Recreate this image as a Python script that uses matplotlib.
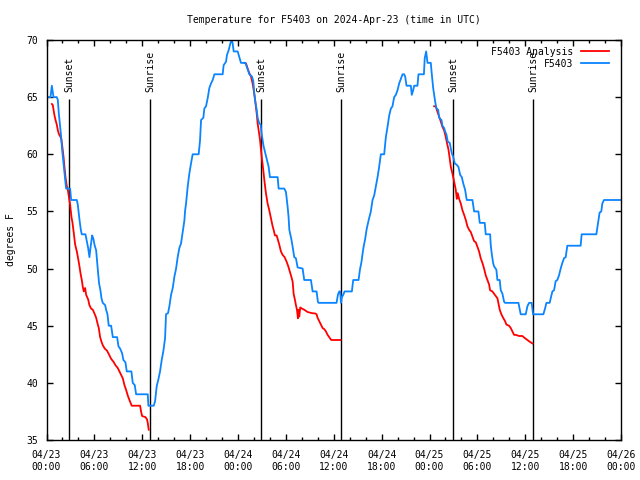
# Temperature for F5403, observations vs analysis, with sunset / sunrise markers

import matplotlib
matplotlib.use('Agg')
import matplotlib.pyplot as plt
import matplotlib.dates as mdates
import pandas as pd

start = pd.Timestamp('2024-04-23 00:00')

# observations (hours after 04/23 00:00 UTC, deg F)
obs_hours = [0.0, 0.5, 0.67, 0.88, 1.29, 1.42, 1.54, 1.71, 1.84, 1.96, 2.13, 2.25,
             2.38, 2.46, 2.96, 3.09, 3.80, 3.92, 4.13, 4.30, 4.42, 4.88, 5.05, 5.22,
             5.38, 5.51, 5.72, 5.88, 6.01, 6.22, 6.34, 6.47, 6.59, 6.76, 6.89, 7.05,
             7.35, 7.47, 7.64, 7.80, 8.10, 8.31, 8.85, 9.02, 9.22, 9.47, 9.64, 9.89,
             10.06, 10.64, 10.81, 11.06, 11.23, 12.69, 12.77, 13.44, 13.61, 13.81,
             14.02, 14.23, 14.44, 14.65, 14.86, 14.98, 15.23, 15.40, 15.61, 15.82,
             16.03, 16.24, 16.44, 16.65, 16.86, 17.07, 17.28, 17.36, 17.49, 17.70,
             17.90, 18.11, 18.32, 19.07, 19.24, 19.37, 19.66, 19.78, 19.99, 20.20,
             20.41, 20.62, 20.83, 21.04, 22.08, 22.20, 22.41, 22.50, 22.62, 22.83,
             23.04, 23.21, 23.33, 23.46, 23.96, 24.17, 24.37, 24.92, 25.08, 25.42,
             25.75, 25.92, 26.04, 26.17, 26.34, 26.46, 26.67, 26.84, 26.96, 27.09,
             27.21, 27.42, 27.63, 27.84, 28.00, 28.97, 29.09, 29.80, 30.01, 30.22,
             30.34, 30.43, 30.68, 30.85, 31.05, 31.26, 31.47, 32.10, 32.30, 33.14,
             33.35, 33.85, 34.01, 34.10, 36.35, 36.52, 36.69, 36.81, 36.90, 37.02,
             37.19, 37.36, 38.27, 38.44, 39.11, 39.28, 39.48, 39.61, 39.74, 39.94,
             40.11, 40.36, 40.65, 40.86, 41.07, 41.28, 41.49, 41.69, 41.90, 42.32,
             42.53, 42.74, 42.95, 43.16, 43.36, 43.57, 43.78, 43.99, 44.20, 44.41,
             44.62, 44.82, 44.95, 45.12, 45.66, 45.78, 45.95, 46.08, 46.49, 46.62,
             47.30, 47.40, 47.58, 47.75, 48.16, 48.29, 48.46, 48.58, 48.71, 48.87,
             49.08, 49.21, 49.33, 49.50, 49.62, 49.83, 49.96, 50.13, 50.29, 50.54,
             50.67, 50.79, 50.96, 51.17, 51.38, 51.63, 51.84, 52.05, 52.21, 52.46,
             52.67, 53.38, 53.59, 54.13, 54.30, 54.92, 55.05, 55.60, 55.67, 55.80,
             55.97, 56.09, 56.38, 56.51, 56.80, 56.93, 57.14, 57.35, 57.47, 59.15,
             59.31, 59.43, 60.06, 60.27, 60.48, 60.81, 60.89, 60.98, 62.27, 62.48,
             62.65, 63.06, 63.19, 63.40, 63.61, 63.81, 64.02, 64.23, 64.44, 64.65,
             64.86, 65.07, 65.27, 66.94, 67.07, 68.91, 69.04, 69.16, 69.32, 69.53,
             69.66, 69.87, 72.0]
obs_temps = [65, 65, 66, 65, 65, 64.75, 63.6, 62.4, 61.5, 60.4, 59.2, 58.3,
             57.5, 57, 57, 56, 56, 55.6, 54.3, 53.4, 53, 53, 52.4, 51.8,
             51, 51.8, 52.9, 52.6, 52.1, 51.6, 50.6, 49.6, 48.7, 48.1, 47.4, 47,
             46.8, 46.4, 46, 45, 45, 44, 44, 43.2, 43, 42.6, 42, 41.8,
             41, 41, 40, 39.8, 39, 39, 38, 38, 38.4, 39.7,
             40.3, 41, 42, 42.8, 43.9, 46, 46.1, 46.7, 47.7, 48.3,
             49.3, 50, 51, 51.8, 52.2, 53.2, 54.2, 55, 55.7, 57.2,
             58.3, 59.2, 60, 60, 61.2, 63, 63.2, 64, 64.2, 64.9,
             65.8, 66.2, 66.5, 67, 67, 67.8, 68, 68.1, 68.7, 69.1,
             69.7, 70, 69.7, 69, 69, 68.5, 68, 68, 67.7, 67,
             66.8, 66.4, 65.3, 64.6, 63.9, 63.2, 62.7, 62.6, 61.8, 61.2,
             60.7, 60.1, 59.5, 58.9, 58, 58, 57, 57, 56.7, 55.4,
             54.5, 53.4, 52.6, 51.9, 51, 50.9, 50.1, 50, 49, 49,
             48, 48, 47.1, 47, 47, 47.7, 48, 48, 47, 47.5,
             47.7, 48, 48, 49, 49, 49.9, 50.6, 51.3, 51.9, 52.6,
             53.4, 54.2, 55, 56, 56.4, 57.2, 58, 58.9, 60, 60,
             61.5, 62.4, 63.4, 64, 64.2, 65, 65.2, 65.6, 66.2, 66.6,
             67, 67, 66.8, 66, 66, 65.2, 65.6, 66, 66, 67,
             67, 68.4, 69, 68, 68, 67, 65.8, 65.2, 64.6, 64,
             63.9, 63.2, 63.1, 63, 62.5, 62.3, 62, 61.7, 61.1, 61,
             60.5, 60.1, 59.8, 59.2, 59.1, 58.9, 58.2, 58, 57.5, 56.9,
             56, 56, 55, 55, 54, 54, 53, 53, 52.1, 51.3,
             50.5, 50.2, 49.9, 49, 49, 48.1, 47.8, 47.1, 47, 47,
             46.4, 46, 46, 46.7, 47, 47, 46.5, 46, 46, 46.5,
             47, 47, 47.4, 48, 48.1, 48.9, 49, 49.4, 50, 50.5,
             50.9, 51, 52, 52, 53, 53, 53.6, 54.2, 54.9, 55,
             55.7, 56, 56]

# analysis, one run per evening
ana1_hours = [0.67, 0.79, 0.88, 1.00, 1.13, 1.29, 1.42, 1.54, 1.84, 1.96, 2.13, 2.25,
              2.38, 2.55, 2.67, 2.80, 2.96, 3.13, 3.26, 3.42, 3.59, 3.80, 3.96, 4.13,
              4.26, 4.42, 4.55, 4.67, 4.84, 4.97, 5.22, 5.38, 5.59, 5.80, 6.05, 6.22,
              6.43, 6.55, 6.72, 6.89, 7.05, 7.30, 7.60, 7.89, 8.10, 8.39, 8.64, 8.93,
              9.14, 9.35, 9.56, 9.77, 9.97, 10.18, 10.39, 10.68, 11.73, 11.85, 11.98,
              12.40, 12.60, 12.69, 12.81]
ana1_temps = [64.4, 64.3, 63.9, 63.4, 63.0, 62.6, 62.1, 61.8, 61.4, 60.8, 59.8, 58.9,
              58.0, 57.2, 56.9, 56.3, 55.6, 54.5, 54.0, 53.1, 52.1, 51.5, 50.9, 50.2,
              49.6, 49.0, 48.4, 48.0, 48.3, 47.7, 47.3, 46.8, 46.5, 46.4, 46.0, 45.7,
              45.1, 44.8, 44.0, 43.6, 43.3, 43.0, 42.8, 42.4, 42.1, 41.85, 41.55, 41.3,
              41.0, 40.7, 40.4, 39.8, 39.4, 38.9, 38.5, 38.0, 38.0, 37.5, 37.1,
              37.0, 36.8, 36.5, 35.9]

ana2_hours = [24.79, 25.00, 25.21, 25.42, 25.63, 25.83, 26.04, 26.17, 26.34, 26.46,
              26.59, 26.76, 26.88, 27.00, 27.17, 27.34, 27.50, 27.71, 27.92, 28.13,
              28.34, 28.46, 28.63, 28.84, 29.01, 29.17, 29.38, 29.59, 29.84, 30.09,
              30.30, 30.51, 30.68, 30.85, 30.97, 31.14, 31.26, 31.39, 31.51, 31.60,
              31.68, 31.80, 32.01, 32.30, 32.72, 33.26, 33.68, 33.85, 33.97, 34.18,
              34.39, 34.60, 34.81, 35.02, 35.23, 35.43, 35.68, 36.85]
ana2_temps = [68.0, 67.96, 67.5, 67.1, 66.8, 66.2, 65.3, 64.6, 63.6, 62.7,
              62.1, 61.25, 60.4, 59.6, 58.6, 57.5, 56.6, 55.7, 55.1, 54.4,
              53.7, 53.4, 52.9, 52.9, 52.5, 52.1, 51.5, 51.2, 51.0, 50.6,
              50.2, 49.7, 49.3, 48.85, 47.8, 47.25, 46.8, 46.4, 45.65, 46.4,
              45.8, 46.6, 46.5, 46.4, 46.2, 46.1, 46.07, 46.0, 45.7, 45.4,
              45.1, 44.8, 44.7, 44.5, 44.2, 44.0, 43.75, 43.75]

ana3_hours = [48.58, 48.79, 49.00, 49.21, 49.42, 49.62, 49.83, 50.04, 50.25, 50.38,
              50.54, 50.67, 50.88, 51.09, 51.29, 51.42, 51.54, 51.71, 51.92, 52.13,
              52.34, 52.55, 52.75, 52.96, 53.17, 53.38, 53.59, 53.80, 54.01, 54.21,
              54.42, 54.63, 54.84, 55.05, 55.26, 55.47, 55.59, 55.88, 56.09, 56.30,
              56.51, 56.63, 56.80, 57.01, 57.22, 57.47, 57.64, 57.97, 58.18, 58.39,
              58.60, 58.81, 59.23, 59.64, 59.98, 60.27, 60.56, 60.89]
ana3_temps = [64.2, 64.2, 63.7, 63.3, 62.85, 62.4, 62.1, 61.5, 60.8, 60.4,
              59.6, 58.9, 58.3, 57.6, 56.9, 56.1, 56.6, 56.1, 55.7, 55.1,
              54.7, 54.25, 53.7, 53.4, 53.2, 52.8, 52.4, 52.3, 51.9, 51.5,
              50.9, 50.5, 50.0, 49.4, 49.0, 48.6, 48.1, 48.0, 47.8, 47.6,
              47.4, 47.0, 46.4, 46.0, 45.7, 45.4, 45.1, 45.0, 44.8, 44.5,
              44.2, 44.2, 44.1, 44.1, 43.9, 43.75, 43.6, 43.45]

sunset_hours = [2.86, 26.92, 50.98]
sunrise_hours = [12.97, 36.94, 61.0]


def to_time(hours):
    return start + pd.to_timedelta(hours, unit='h')


plt.rcParams['font.family'] = 'DejaVu Sans Mono'
plt.rcParams['font.size'] = 7

fig = plt.figure(figsize=(6.4, 4.8), dpi=100)
ax = fig.add_axes([46.5 / 640, 40 / 480, 574.5 / 640, 400 / 480])

# sun markers
ax.vlines(to_time(sunset_hours), 35, 64.85, color='black', lw=1, zorder=1)
ax.vlines(to_time(sunrise_hours), 35, 64.85, color='black', lw=1, zorder=1)
for t in to_time(sunset_hours):
    ax.text(t, 65.45, 'Sunset', rotation=90, ha='center', va='bottom')
for t in to_time(sunrise_hours):
    ax.text(t, 65.45, 'Sunrise', rotation=90, ha='center', va='bottom')

red = '#ff0000'
blue = '#0a84ff'
ax.plot(to_time(ana1_hours), ana1_temps, color=red, lw=1.3, label='F5403 Analysis')
ax.plot(to_time(ana2_hours), ana2_temps, color=red, lw=1.3)
ax.plot(to_time(ana3_hours), ana3_temps, color=red, lw=1.3)
ax.plot(to_time(obs_hours), obs_temps, color=blue, lw=1.3, label='F5403')

ax.set_xlim(start, start + pd.Timedelta(hours=72))
ax.set_ylim(35, 70)
ax.set_yticks(range(35, 71, 5))
ax.xaxis.set_major_locator(mdates.HourLocator(byhour=range(0, 24, 6)))
ax.xaxis.set_minor_locator(mdates.HourLocator(byhour=range(0, 24, 2)))
ax.xaxis.set_major_formatter(mdates.DateFormatter('%m/%d\n%H:%M'))
for lab in ax.get_xticklabels():
    lab.set_linespacing(1.3)

ax.tick_params(which='both', direction='in', top=True, right=True, width=1)
ax.tick_params(which='major', length=4)
ax.tick_params(which='minor', length=2.5)
ax.tick_params(axis='x', which='major', pad=7)
ax.tick_params(axis='y', which='major', pad=6)
for s in ax.spines.values():
    s.set_linewidth(1)

ax.set_ylabel('degrees F')
ax.yaxis.set_label_coords(-0.053, 0.5)

ax.text(0.5, 1.05, 'Temperature for F5403 on 2024-Apr-23 (time in UTC)',
        transform=ax.transAxes, ha='center', va='center')

ax.legend(loc='upper right', bbox_to_anchor=(0.991, 1.0), frameon=False,
          markerfirst=False, handlelength=2.9, handletextpad=0.75,
          labelspacing=0.2, borderaxespad=0.3, borderpad=0.4)

fig.savefig('out.png', dpi=100)
